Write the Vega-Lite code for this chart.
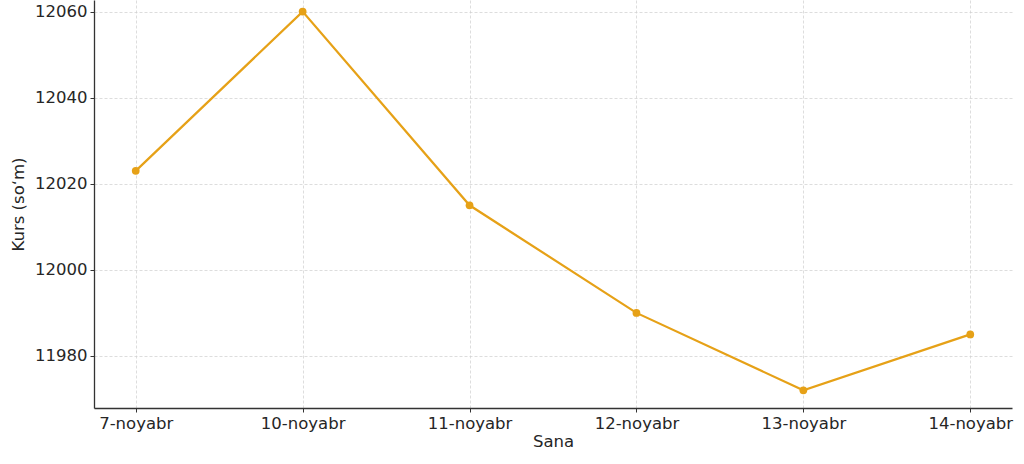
{
  "$schema": "https://vega.github.io/schema/vega-lite/v6.json",
  "width": 918,
  "height": 408,
  "autosize": {"type": "none"},
  "padding": {"left": 94, "top": 0, "right": 12, "bottom": 56},
  "data": {
    "values": [
      {"sana": "7-noyabr", "kurs": 12023},
      {"sana": "10-noyabr", "kurs": 12060},
      {"sana": "11-noyabr", "kurs": 12015},
      {"sana": "12-noyabr", "kurs": 11990},
      {"sana": "13-noyabr", "kurs": 11972},
      {"sana": "14-noyabr", "kurs": 11985}
    ]
  },
  "config": {
    "view": {"stroke": null},
    "font": "DejaVu Sans",
    "axis": {
      "labelFont": "DejaVu Sans",
      "titleFont": "DejaVu Sans",
      "labelFontSize": 16.5,
      "titleFontSize": 16.5,
      "titleFontWeight": "normal",
      "labelColor": "#262626",
      "titleColor": "#262626",
      "domainColor": "#333",
      "domainWidth": 1.3,
      "tickColor": "#333",
      "tickSize": 4,
      "grid": true,
      "gridColor": "#cfcfcf",
      "gridDash": [3, 2],
      "gridWidth": 0.7
    }
  },
  "layer": [
    {
      "mark": {"type": "line", "color": "#E6A117", "strokeWidth": 2.2},
      "encoding": {
        "x": {
          "field": "sana", "type": "ordinal", "sort": null,
          "scale": {"type": "point", "padding": 0.25},
          "axis": {"title": "Sana", "labelAngle": 0, "labelPadding": 3, "titlePadding": 2, "grid": true}
        },
        "y": {
          "field": "kurs", "type": "quantitative",
          "scale": {"domain": [11967.9, 12062.7], "nice": false, "zero": false},
          "axis": {"title": "Kurs (soʻm)", "format": "d", "values": [11980, 12000, 12020, 12040, 12060], "titlePadding": 8, "labelPadding": 3}
        }
      }
    },
    {
      "mark": {"type": "point", "filled": true, "color": "#E6A117", "size": 60, "opacity": 1},
      "encoding": {
        "x": {"field": "sana", "type": "ordinal", "sort": null, "scale": {"type": "point", "padding": 0.25}},
        "y": {"field": "kurs", "type": "quantitative"}
      }
    }
  ]
}
